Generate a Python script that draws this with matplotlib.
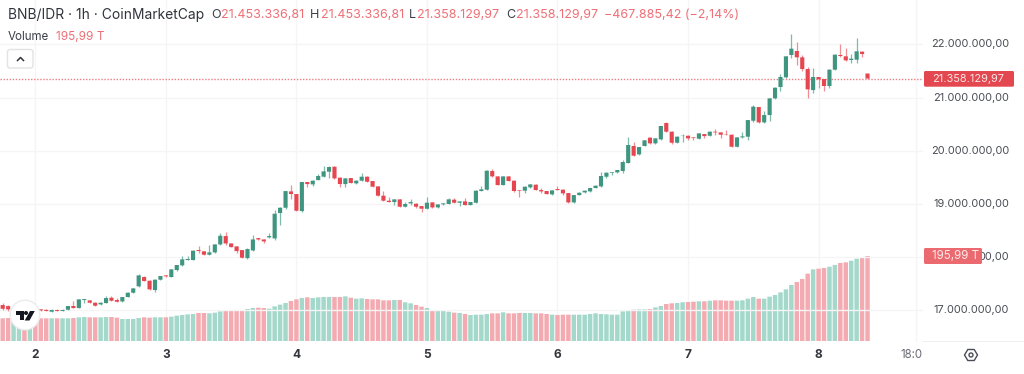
import matplotlib
matplotlib.use("Agg")
import matplotlib.pyplot as plt
from matplotlib.patches import Circle, FancyBboxPatch, Polygon, Rectangle
from matplotlib.transforms import Affine2D

plt.rcParams['font.family'] = ['Inter', 'DejaVu Sans']

# Hourly candles, prices in millions of IDR
open_ = [17.10,17.08,17.00,17.02,17.03,17.01,17.02,17.02,17.01,16.975,17.006,16.988,17.013,17.082,17.044,17.195,17.188,17.144,17.113,17.138,
17.238,17.195,17.169,17.251,17.332,17.452,17.627,17.558,17.383,17.577,17.658,17.627,17.759,17.847,17.947,17.947,18.135,18.110,18.047,18.09,
18.24,18.397,18.259,18.203,18.134,17.983,18.127,18.359,18.334,18.372,18.353,18.830,18.930,19.237,19.187,18.867,19.413,19.369,19.450,19.513,
19.607,19.701,19.494,19.375,19.488,19.388,19.438,19.513,19.432,19.331,19.156,19.062,19.037,19.087,18.949,19.012,19.005,18.961,18.911,19.030,
18.936,18.993,19.0,19.081,19.024,19.049,18.98,19.024,19.244,19.269,19.620,19.519,19.356,19.519,19.438,19.262,19.250,19.313,19.363,19.262,
19.244,19.181,19.281,19.269,19.206,19.030,19.168,19.218,19.237,19.3,19.331,19.513,19.588,19.595,19.620,19.770,20.090,19.933,20.090,20.247,
20.140,20.215,20.522,20.359,20.152,20.277,20.283,20.252,20.227,20.315,20.283,20.359,20.346,20.308,20.302,20.076,20.252,20.265,20.565,20.823,
20.534,20.672,20.986,21.199,21.381,21.801,21.876,21.757,21.537,21.142,21.387,21.349,21.218,21.525,21.801,21.776,21.707,21.713,21.863,21.453]
close = [17.03,17.02,17.02,17.03,17.01,17.02,17.01,17.00,16.99,17.006,16.988,17.006,17.082,17.044,17.207,17.213,17.144,17.088,17.144,17.232,
17.182,17.163,17.251,17.332,17.414,17.658,17.552,17.395,17.577,17.646,17.640,17.771,17.853,17.959,17.966,18.122,18.116,18.047,18.091,18.24,
18.403,18.259,18.190,18.115,17.99,18.153,18.334,18.334,18.297,18.397,18.817,18.930,19.243,19.187,18.874,19.413,19.375,19.438,19.526,19.613,
19.695,19.482,19.375,19.482,19.394,19.438,19.513,19.419,19.325,19.156,19.062,19.037,19.087,18.949,19.0,19.037,18.949,18.911,19.024,18.936,
18.993,19.012,19.087,19.024,19.049,18.98,19.037,19.250,19.275,19.626,19.519,19.356,19.519,19.432,19.244,19.250,19.325,19.369,19.262,19.237,
19.187,19.256,19.262,19.2,19.030,19.168,19.212,19.25,19.3,19.344,19.526,19.588,19.601,19.639,19.789,20.109,19.908,20.071,20.197,20.140,
20.234,20.466,20.359,20.152,20.265,20.283,20.233,20.239,20.327,20.277,20.359,20.346,20.302,20.302,20.076,20.252,20.271,20.578,20.829,20.534,
20.672,20.986,21.186,21.387,21.776,21.920,21.757,21.537,21.155,21.387,21.343,21.218,21.525,21.807,21.782,21.700,21.732,21.870,21.820,21.358]
high = [17.13,17.11,17.03,17.04,17.04,17.03,17.03,17.03,17.02,17.02,17.02,17.02,17.09,17.182,17.22,17.22,17.195,17.15,17.15,17.27,
17.27,17.238,17.26,17.34,17.42,17.684,17.64,17.565,17.585,17.655,17.665,17.78,17.86,18.022,18.028,18.13,18.215,18.12,18.23,18.25,
18.46,18.466,18.27,18.21,18.14,18.165,18.416,18.37,18.34,18.447,18.886,18.94,19.25,19.356,19.195,19.42,19.42,19.445,19.557,19.708,
19.708,19.71,19.50,19.49,19.495,19.445,19.582,19.52,19.44,19.34,19.244,19.137,19.095,19.095,19.043,19.093,19.01,18.97,19.137,19.04,
19.0,19.02,19.118,19.112,19.055,19.106,19.045,19.26,19.344,19.635,19.657,19.525,19.525,19.525,19.445,19.27,19.33,19.375,19.37,19.306,
19.25,19.26,19.338,19.275,19.21,19.175,19.22,19.255,19.305,19.35,19.607,19.595,19.607,19.645,19.827,20.266,20.172,20.08,20.205,20.255,
20.24,20.47,20.547,20.365,20.27,20.308,20.29,20.26,20.33,20.32,20.365,20.409,20.35,20.384,20.31,20.26,20.346,20.585,20.860,20.83,
20.754,20.99,21.19,21.437,21.78,22.189,22.039,21.801,21.581,21.550,21.39,21.355,21.53,21.815,22.001,21.926,21.826,22.114,21.87,21.453]
low = [17.00,16.99,16.99,17.01,17.00,17.00,17.00,16.99,16.98,16.97,16.98,16.98,17.00,17.04,17.04,17.144,17.14,17.08,17.11,17.13,
17.17,17.15,17.16,17.245,17.325,17.445,17.545,17.39,17.351,17.57,17.635,17.62,17.75,17.84,17.94,17.94,18.07,18.04,18.04,18.08,
18.235,18.228,18.185,18.07,17.985,17.958,18.12,18.33,18.259,18.365,18.322,18.604,18.905,19.093,18.87,18.842,19.325,19.338,19.445,19.505,
19.482,19.475,19.312,19.325,19.39,19.38,19.43,19.41,19.32,19.15,19.055,19.03,18.98,18.945,18.94,18.98,18.918,18.855,18.905,18.93,
18.93,18.99,18.995,19.02,18.968,18.975,18.975,19.02,19.24,19.26,19.51,19.35,19.35,19.43,19.225,19.137,19.206,19.31,19.255,19.206,
19.18,19.175,19.255,19.168,19.025,19.025,19.165,19.215,19.23,19.295,19.325,19.482,19.545,19.59,19.588,19.765,19.90,19.925,20.085,20.135,
20.135,20.21,20.355,20.12,20.15,20.158,20.202,20.202,20.22,20.246,20.28,20.296,20.246,20.30,20.07,20.07,20.25,20.202,20.547,20.53,
20.53,20.559,20.98,21.124,21.375,21.738,21.613,21.506,20.986,21.080,21.186,21.130,21.186,21.52,21.757,21.695,21.657,21.657,21.757,21.35]
# Volume, trillions
volume = [52.3,53.0,51.5,50.7,51.5,51.5,51.5,52.3,52.3,52.3,52.3,52.3,52.3,53.0,54.6,55.3,54.6,54.6,54.6,55.3,
55.3,53.8,50.7,50.7,50.7,53.0,54.6,53.8,54.6,54.6,54.6,56.1,58.4,60.0,61.5,62.3,64.6,64.6,63.8,65.3,
68.4,69.9,70.7,71.5,71.5,73.8,76.1,76.9,76.1,74.6,79.9,83.8,87.6,92.2,96.1,99.2,100.7,99.2,100.7,101.5,
101.5,101.5,101.5,103.0,99.9,97.6,98.4,96.8,96.1,96.1,93.8,93.8,94.5,94.5,89.2,86.9,83.0,79.2,76.1,71.5,
70.7,69.2,67.6,65.3,64.6,62.3,60.0,60.7,60.7,62.3,63.8,63.8,66.1,63.8,63.8,64.6,64.6,64.6,63.8,63.8,
62.3,60.7,60.0,60.7,60.7,60.7,60.7,60.7,62.3,63.8,62.3,61.5,60.7,60.7,68.4,70.7,72.3,73.0,73.0,73.8,
77.6,80.7,85.3,86.9,87.6,89.2,89.9,90.7,91.5,91.5,93.0,93.8,93.8,93.0,93.0,93.0,93.8,97.6,101.5,97.6,
97.6,102.2,106.1,112.2,119.1,129.1,136.0,143.0,155.3,165.2,166.8,168.3,171.4,175.2,179.9,181.4,185.2,189.8,192.9,195.99]
day_ticks = [6, 30, 54, 78, 102, 126, 150]
day_labels = ['2', '3', '4', '5', '6', '7', '8']
time_tick = 168
time_label = '18:0'
price_ticks = [17, 18, 19, 20, 21, 22]
price_labels = ['17.000.000,00', '00,00', '19.000.000,00', '20.000.000,00', '21.000.000,00', '22.000.000,00']
last_price = 21.358
last_price_label = '21.358.129,97'
last_volume_label = '195,99 T'

W, H = 1024, 374
UP, DOWN = '#3f9580', '#e5464f'
UP_V, DOWN_V = '#a3d8ca', '#f3abb1'
GRID = '#f5f5f6'
TXT = '#3a3d47'
PINK = '#ee6f76'

fig = plt.figure(figsize=(W / 100, H / 100), dpi=100, facecolor='white')
PX = Affine2D().scale(1 / W, -1 / H).translate(0, 1) + fig.transFigure

L, R, BOT = 0, 923, 341.5
pos = [L / W, (H - BOT) / H, (R - L) / W, BOT / H]
ax_v = fig.add_axes(pos, facecolor='white', zorder=1)
ax = fig.add_axes(pos, facecolor='none', zorder=2)
xlim = (-0.496, 169.2)
for a in (ax, ax_v):
    a.set_xlim(*xlim)
    for s in a.spines.values():
        s.set_visible(False)
    a.tick_params(left=False, bottom=False, labelleft=False, labelbottom=False)
ax.set_ylim(22 - (BOT - 44.4) / 53.2, 22 + 44.4 / 53.2)
ax_v.set_ylim(-0.5 * 2.306, (BOT - 0) * 2.306 - 0.5 * 2.306)

for t in day_ticks + [time_tick]:
    ax_v.axvline(t, color=GRID, lw=1, zorder=0)
for p in price_ticks:
    ax.axhline(p, color=GRID, lw=1, zorder=0.5)

xs = list(range(len(close)))
vcol = [UP_V if c >= o else DOWN_V for o, c in zip(open_, close)]
for b in ax_v.bar(xs, volume, width=0.82, color=vcol, zorder=2, linewidth=0):
    b.set_snap(False)

ccol = [UP if c >= o else DOWN for o, c in zip(open_, close)]
wcol = ['#7dbcab' if c >= o else '#ee8f95' for o, c in zip(open_, close)]
ax.vlines(xs, low, high, colors=wcol, lw=0.9, zorder=3)
for b in ax.bar(xs, [abs(c - o) for o, c in zip(open_, close)], bottom=[min(o, c) for o, c in zip(open_, close)],
                width=0.76, color=ccol, linewidth=0, zorder=4):
    b.set_snap(False)

ax.axhline(last_price, color='#ee7f85', lw=1, ls=(0, (1, 1.2)), zorder=3)

# bottom axis line
fig.add_artist(Rectangle((0, 341), 1024, 1, transform=PX, color='#eeeeef', lw=0))

# text helpers (pixel coordinates)
def T(x, y, s, **kw):
    kw.setdefault('va', 'center')
    return fig.text(x / W, 1 - y / H, s, **kw)

for t, lab in zip(day_ticks, day_labels):
    px = 2.7 + 5.44 * t
    T(px, 355.5, lab, ha='center', fontsize=8.6, fontweight='bold', color='#33353d')
T(923, 355.5, time_label, ha='right', fontsize=8.3, color='#6b6e76')

for p, lab in zip(price_ticks, price_labels):
    T(1009, 44.4 + (22 - p) * 53.2, lab, ha='right', fontsize=7.9, color='#4a4d55')

# price labels
fig.add_artist(FancyBboxPatch((924, 71), 90, 15.7, boxstyle='round,pad=0,rounding_size=1.5', transform=PX, fc='#e3474f', ec='none', zorder=5))
T(931.7, 78.8, last_price_label, ha='left', fontsize=7.9, color='#fbe6e7', zorder=6)
fig.add_artist(FancyBboxPatch((924, 248), 58, 16, boxstyle='round,pad=0,rounding_size=1.5', transform=PX, fc='#ea6a70', ec='none', zorder=5))
T(932, 256.3, last_volume_label, ha='left', fontsize=8.3, color='#fde9ea', zorder=6)

# header
T(8, 15.5, 'BNB/IDR · 1h · CoinMarketCap', ha='left', fontsize=9.95, color='#31343d')
for lx, ls, vx, vs in [(211, 'O', 221.5, '21.453.336,81'), (310, 'H', 320.5, '21.453.336,81'),
                       (409, 'L', 417, '21.358.129,97'), (506, 'C', 516, '21.358.129,97')]:
    T(lx, 15.5, ls, ha='left', fontsize=9.0, color='#3c3f48')
    T(vx, 15.5, vs, ha='left', fontsize=9.0, color=PINK)
T(604.5, 15.5, '−467.885,42 (−2,14%)', ha='left', fontsize=9.0, color=PINK)
T(8, 36.5, 'Volume', ha='left', fontsize=8.3, color='#3c3f48')
T(56, 36.5, '195,99 T', ha='left', fontsize=8.5, color=PINK)

# collapse button
fig.add_artist(FancyBboxPatch((7.5, 49.5), 25.5, 18.5, boxstyle='round,pad=0,rounding_size=2.5', transform=PX, fc='white', ec='#e2e3e6', lw=1, zorder=5))
fig.add_artist(plt.Line2D([17.5, 20.5, 23.5], [60.5, 57.5, 60.5], transform=PX, color='#33353d', lw=1.1, zorder=6))

# settings icon
hexa = [(971 + dx, 355 + dy) for dx, dy in [(-6.5, 0), (-3.2, -5.5), (3.2, -5.5), (6.5, 0), (3.2, 5.5), (-3.2, 5.5)]]
fig.add_artist(Polygon(hexa, closed=True, transform=PX, fc='none', ec='#4a4d55', lw=1))
fig.add_artist(Circle((971, 355), 2, transform=PX, fc='none', ec='#4a4d55', lw=1))

# TradingView badge
fig.add_artist(Circle((25, 315), 14.8, transform=PX, fc='white', ec='#ececee', lw=1, zorder=7))
fig.add_artist(Polygon([(15.5, 311), (23.5, 311), (23.5, 320.5), (19.7, 320.5), (19.7, 315), (15.5, 315)], transform=PX, fc='#131722', ec='none', zorder=8))
fig.add_artist(Circle((26, 313), 2, transform=PX, fc='#131722', ec='none', zorder=8))
fig.add_artist(Polygon([(30, 311), (34.8, 311), (29.5, 320.5), (24.7, 320.5)], transform=PX, fc='#131722', ec='none', zorder=8))

fig.savefig('out.png', dpi=100, facecolor='white')
